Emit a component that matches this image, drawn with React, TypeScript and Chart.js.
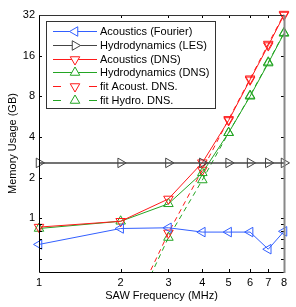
import React, { useEffect, useRef } from 'react';
import { Chart, registerables } from 'chart.js';

Chart.register(...registerables);

const frequencies = [1, 2, 3, 4, 5, 6, 7, 8];
const acousticsFourier = [0.64, 0.84, 0.85, 0.79, 0.79, 0.79, 0.59, 0.8];
const hydroLES = [2.57, 2.57, 2.57, 2.57, 2.57, 2.57, 2.57, 2.57];
const acousticsDNS = [0.86, 0.95, 1.39, 2.58, 5.3, 10.6, 19, 32];
const hydroDNS = [0.84, 0.95, 1.28, 2.17, 4.3, 8.0, 14.1, 23.4];
const fitFrequencies = [2.5, 3, 4, 5, 6, 7, 8];
const fitAcoustDNS = [0.36, 0.78, 2.28, 5.4, 10.8, 19.5, 32.5];
const fitHydroDNS = [0.33, 0.72, 1.92, 4.3, 8.1, 14.3, 23.6];
const xTicks = [1, 2, 3, 4, 5, 6, 7, 8];
const yMajorTicks = [1, 2, 4, 8, 16, 32];
const yMinorTicks = [0.5, 0.6, 0.7, 0.8, 0.9];

const FONT = "'Liberation Sans', Arial, Helvetica, sans-serif";
const BLUE = 'rgb(50, 95, 255)';
const BLACK = '#444';
const RED = 'rgb(255, 25, 25)';
const GREEN = 'rgb(35, 165, 35)';

function pts(xs: number[], ys: number[]) {
  return xs.map((x, i) => ({ x, y: ys[i] }));
}

function drawTri(ctx: CanvasRenderingContext2D, x: number, y: number, r: number, rotDeg: number, color: string) {
  let rad = (rotDeg * Math.PI) / 180;
  ctx.beginPath();
  ctx.moveTo(x + Math.sin(rad) * r, y - Math.cos(rad) * r);
  rad += (2 * Math.PI) / 3;
  ctx.lineTo(x + Math.sin(rad) * r, y - Math.cos(rad) * r);
  rad += (2 * Math.PI) / 3;
  ctx.lineTo(x + Math.sin(rad) * r, y - Math.cos(rad) * r);
  ctx.closePath();
  ctx.fillStyle = '#fff';
  ctx.fill();
  ctx.strokeStyle = color;
  ctx.lineWidth = 1;
  ctx.setLineDash([]);
  ctx.stroke();
}

const frameTicksPlugin = {
  id: 'frameTicks',
  afterDraw(chart: any) {
    const { ctx, chartArea } = chart;
    const { left, right, top, bottom } = chartArea;
    const xs = chart.scales.x;
    const ys = chart.scales.y;
    const tl = 3;
    ctx.save();
    ctx.setLineDash([]);
    ctx.strokeStyle = '#000';
    ctx.lineWidth = 1;
    ctx.beginPath();
    xTicks.forEach((v) => {
      const px = Math.round(xs.getPixelForValue(v)) + 0.5;
      ctx.moveTo(px, bottom);
      ctx.lineTo(px, bottom - tl);
      ctx.moveTo(px, top);
      ctx.lineTo(px, top + tl);
    });
    [...yMajorTicks, ...yMinorTicks].forEach((v) => {
      const py = Math.round(ys.getPixelForValue(v)) + 0.5;
      ctx.moveTo(left, py);
      ctx.lineTo(left + tl, py);
      ctx.moveTo(right, py);
      ctx.lineTo(right - tl, py);
    });
    ctx.stroke();
    // frame
    ctx.beginPath();
    ctx.strokeStyle = '#000';
    ctx.moveTo(Math.round(left) + 0.5, Math.round(top) + 0.5);
    ctx.lineTo(Math.round(left) + 0.5, Math.round(bottom) + 0.5);
    ctx.lineTo(Math.round(right) + 0.5, Math.round(bottom) + 0.5);
    ctx.stroke();
    ctx.beginPath();
    ctx.strokeStyle = '#333';
    ctx.moveTo(Math.round(left) + 0.5, Math.round(top) + 0.5);
    ctx.lineTo(Math.round(right) + 0.5, Math.round(top) + 0.5);
    ctx.stroke();
    ctx.beginPath();
    ctx.strokeStyle = '#888';
    ctx.lineWidth = 2;
    ctx.moveTo(Math.round(right) + 0.5, Math.round(top));
    ctx.lineTo(Math.round(right) + 0.5, Math.round(bottom) + 1);
    ctx.stroke();
    ctx.restore();
  },
};

const boxLegendPlugin = {
  id: 'boxLegend',
  afterDatasetsDraw(chart: any) {
    const ctx: CanvasRenderingContext2D = chart.ctx;
    ctx.save();
    const x0 = 46.5, y0 = 21.5, w = 169, h = 87;
    ctx.fillStyle = '#fff';
    ctx.fillRect(x0, y0, w, h);
    ctx.strokeStyle = '#333';
    ctx.lineWidth = 1;
    ctx.setLineDash([]);
    ctx.strokeRect(x0, y0, w, h);
    chart.data.datasets.forEach((ds: any, i: number) => {
      const y = Math.round(31 + i * 13.8) + 0.5;
      ctx.strokeStyle = ds.borderColor;
      ctx.lineWidth = 1;
      ctx.beginPath();
      if (ds.borderDash && ds.borderDash.length) {
        ctx.moveTo(53, y);
        ctx.lineTo(61, y);
        ctx.moveTo(89, y);
        ctx.lineTo(97, y);
      } else {
        ctx.moveTo(53, y);
        ctx.lineTo(97, y);
      }
      ctx.stroke();
      drawTri(ctx, 75, y, 5.5, ds.pointRotation || 0, ds.borderColor);
      ctx.fillStyle = '#000';
      ctx.font = `11px ${FONT}`;
      ctx.textBaseline = 'middle';
      ctx.textAlign = 'left';
      ctx.fillText(ds.label, 100, y);
    });
    ctx.restore();
  },
};

export default function App() {
  const ref = useRef<HTMLCanvasElement | null>(null);
  useEffect(() => {
    if (!ref.current) return;
    const clip = { left: 10, right: 10, top: 10, bottom: 0 };
    const common = {
      pointStyle: 'triangle',
      pointRadius: 5.5,
      pointHoverRadius: 5.5,
      pointBorderWidth: 1,
      pointBackgroundColor: 'rgba(0,0,0,0)',
      borderWidth: 1,
      fill: false,
      tension: 0,
      clip,
    };
    const chart = new Chart(ref.current, {
      type: 'line',
      data: {
        datasets: [
          { ...common, label: 'Acoustics (Fourier)', data: pts(frequencies, acousticsFourier), borderColor: BLUE, pointBorderColor: BLUE, pointRotation: 270 },
          { ...common, label: 'Hydrodynamics (LES)', data: pts(frequencies, hydroLES), borderColor: BLACK, pointBorderColor: BLACK, borderWidth: 1.5, pointRotation: 90 },
          { ...common, label: 'Acoustics (DNS)', data: pts(frequencies, acousticsDNS), borderColor: RED, pointBorderColor: RED, pointRotation: 180 },
          { ...common, label: 'Hydrodynamics (DNS)', data: pts(frequencies, hydroDNS), borderColor: GREEN, pointBorderColor: GREEN, pointRotation: 0 },
          { ...common, label: 'fit Acoust. DNS.', data: pts(fitFrequencies, fitAcoustDNS), borderColor: RED, pointBorderColor: RED, pointRotation: 180, borderDash: [5, 4], pointRadius: fitFrequencies.map((_, i) => (i === 0 ? 0 : 5.5)) },
          { ...common, label: 'fit Hydro. DNS.', data: pts(fitFrequencies, fitHydroDNS), borderColor: GREEN, pointBorderColor: GREEN, pointRotation: 0, borderDash: [5, 4], pointRadius: fitFrequencies.map((_, i) => (i === 0 ? 0 : 5.5)) },
        ] as any,
      },
      options: {
        animation: false,
        responsive: false,
        maintainAspectRatio: false,
        events: [],
        layout: { padding: { top: 15, right: 12, left: 0, bottom: 0 } },
        plugins: { legend: { display: false }, tooltip: { enabled: false } },
        scales: {
          x: {
            type: 'logarithmic',
            position: 'bottom',
            min: 1,
            max: 8,
            grid: { display: false, drawTicks: false },
            border: { display: false },
            afterBuildTicks: (s: any) => {
              s.ticks = xTicks.map((v) => ({ value: v }));
            },
            afterFit: (s: any) => {
              s.height = 35;
            },
            ticks: {
              autoSkip: false,
              maxRotation: 0,
              padding: 4,
              color: '#000',
              font: { family: FONT, size: 11 },
              callback: (v: any) => String(v),
            },
            title: {
              display: true,
              text: 'SAW Frequency (MHz)',
              color: '#000',
              font: { family: FONT, size: 11 },
              padding: { top: 0, bottom: 4 },
            },
          },
          y: {
            type: 'logarithmic',
            position: 'left',
            min: 0.4,
            max: 32,
            grid: { display: false, drawTicks: false },
            border: { display: false },
            afterBuildTicks: (s: any) => {
              s.ticks = [...yMinorTicks, ...yMajorTicks].map((v) => ({ value: v }));
            },
            afterFit: (s: any) => {
              s.width = 39;
            },
            ticks: {
              autoSkip: false,
              padding: 4,
              color: '#000',
              font: { family: FONT, size: 11 },
              callback: (v: any) => (yMajorTicks.includes(Number(v)) ? String(v) : ''),
            },
            title: {
              display: true,
              text: 'Memory Usage (GB)',
              color: '#000',
              font: { family: FONT, size: 11 },
              padding: { top: 6, bottom: 0 },
            },
          },
        },
      } as any,
      plugins: [frameTicksPlugin, boxLegendPlugin],
    });
    return () => chart.destroy();
  }, []);
  return (
    <div style={{ position: 'fixed', left: 0, top: 0, width: 296, height: 307, background: '#fff' }}>
      <canvas ref={ref} width={296} height={307} style={{ width: 296, height: 307, display: 'block' }} />
    </div>
  );
}
